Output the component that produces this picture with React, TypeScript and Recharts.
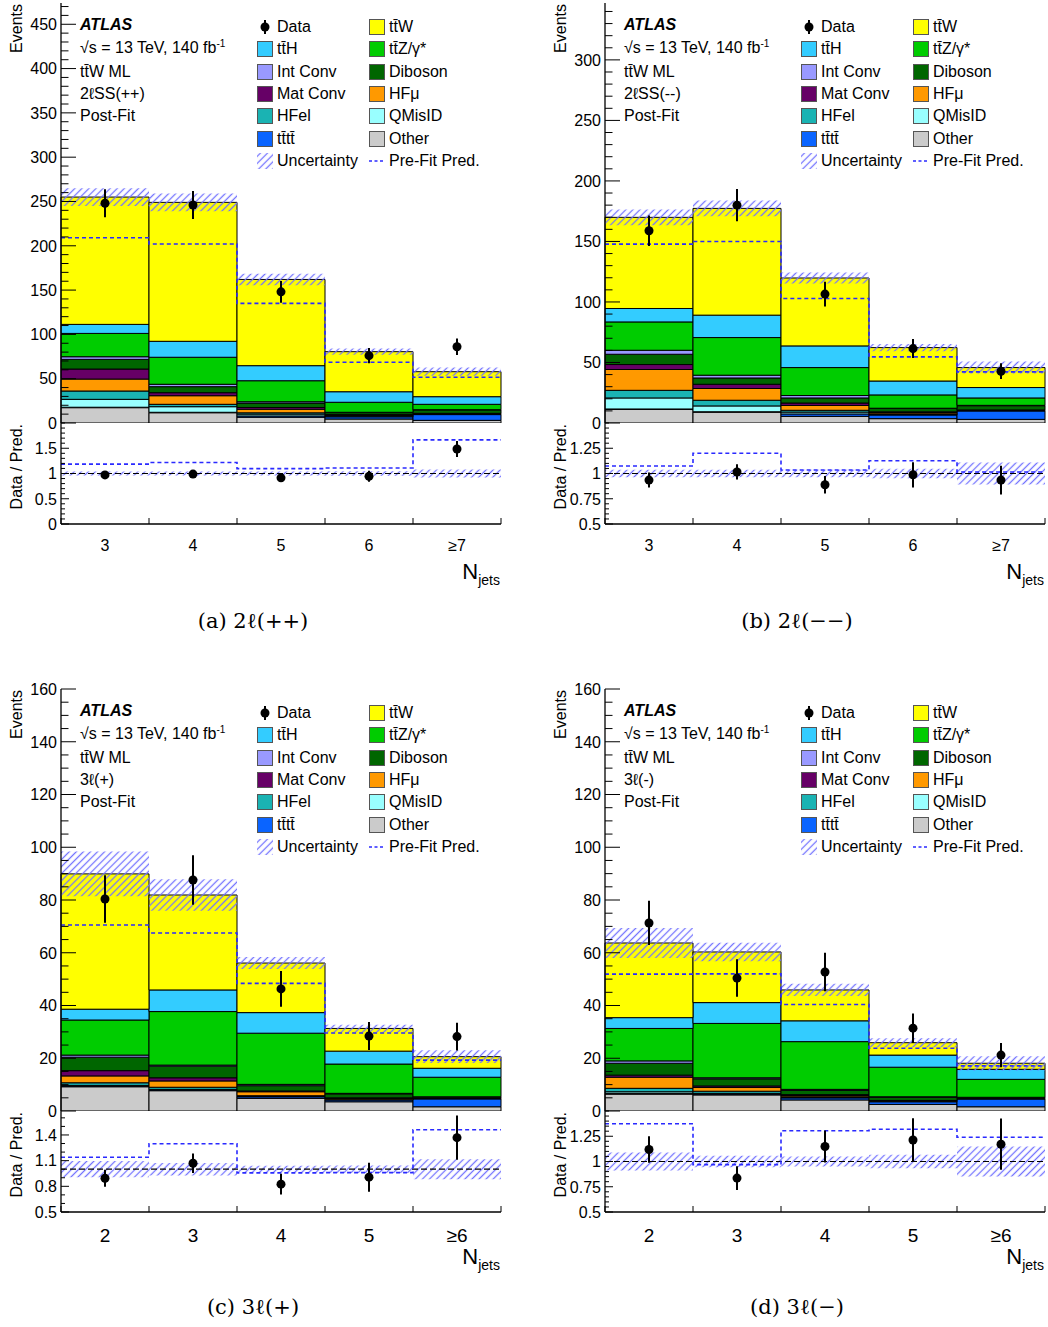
import React from 'react';
import { ComposedChart, Bar, Line, Area, XAxis, YAxis, ReferenceLine, ErrorBar, Legend } from 'recharts';

const SANS = '"Liberation Sans", Arial, Helvetica, "DejaVu Sans", sans-serif';
const SERIF = '"DejaVu Serif", "Liberation Serif", serif';
const HATCH = 'atlasHatch';
const PREFIT_COLOR = '#2a2aff';

// ---------------- categories / tick labels ----------------
const binsTwoLep = ['3', '4', '5', '6', '\u22657'];
const binsThreeLep = ['2', '3', '4', '5', '\u22656'];

const yMajorA = [0, 50, 100, 150, 200, 250, 300, 350, 400, 450];
const yMajorB = [0, 50, 100, 150, 200, 250, 300];
const yMajorCD = [0, 20, 40, 60, 80, 100, 120, 140, 160];
const rMajorA = [0, 0.5, 1, 1.5];
const rMajorB = [0.5, 0.75, 1, 1.25];
const rMajorC = [0.5, 0.8, 1.1, 1.4];
const rMajorD = [0.5, 0.75, 1, 1.25];

// ---------------- (a) 2lSS(++) ----------------
const ppOther = [17.3, 11.6, 6.5, 4.5, 3.0];
const ppTttt = [0.5, 0.5, 1.5, 2.5, 6.5];
const ppQMisID = [8.9, 6.3, 2.0, 0.8, 0.3];
const ppHFel = [9.4, 2.7, 1.5, 0.6, 0.3];
const ppHFmu = [13.5, 9.7, 4.0, 1.0, 0.5];
const ppMatConv = [11.3, 3.4, 2.0, 0.5, 0.3];
const ppDiboson = [10.9, 6.8, 5.0, 2.0, 4.0];
const ppIntConv = [3.0, 2.7, 1.5, 0.2, 0.1];
const ppTtZ = [26.3, 30.5, 23.7, 11.3, 6.1];
const ppTtH = [10.2, 18.0, 17.0, 11.9, 8.6];
const ppTtW = [143.7, 156.8, 97.3, 45.2, 28.2];
const ppData = [248, 246, 148, 76, 86];
const ppDataErr = [15.7, 15.7, 12.2, 8.7, 9.3];
const ppPrefit = [209, 202, 135, 68.5, 51.6];
const ppUnc = [10, 10, 6.5, 3.5, 4.6];

// ---------------- (b) 2lSS(--) ----------------
const mmOther = [11.3, 9.0, 5.5, 3.6, 3.0];
const mmTttt = [0.3, 0.3, 2.0, 3.0, 7.0];
const mmQMisID = [9.1, 4.8, 1.5, 0.5, 0.2];
const mmHFel = [6.3, 4.7, 1.5, 0.5, 0.2];
const mmHFmu = [17.2, 9.7, 4.0, 1.2, 0.2];
const mmMatConv = [4.1, 3.5, 2.0, 0.4, 0.2];
const mmDiboson = [8.5, 5.2, 4.2, 2.8, 3.5];
const mmIntConv = [3.3, 2.3, 2.0, 0.2, 0.3];
const mmTtZ = [23.4, 31.1, 23.1, 11.0, 6.1];
const mmTtH = [11.1, 18.5, 17.9, 11.5, 8.6];
const mmTtW = [75.3, 88.2, 56.1, 27.6, 16.5];
const mmData = [158.8, 180, 106.5, 61.5, 42.8];
const mmDataErr = [12.6, 13.4, 10.3, 7.8, 6.5];
const mmPrefit = [147.8, 150, 102.9, 54.6, 42.2];
const mmUnc = [6.5, 6.5, 4.5, 3.0, 5.0];

// ---------------- (c) 3l(+) ----------------
const p3Other = [9.2, 7.7, 4.8, 3.5, 1.6];
const p3Tttt = [0.3, 0.3, 0.6, 0.7, 3.0];
const p3QMisID = [0.2, 0.2, 0.1, 0.1, 0.1];
const p3HFel = [1.0, 0.8, 0.3, 0.2, 0.1];
const p3HFmu = [2.6, 2.4, 1.5, 0.3, 0.1];
const p3MatConv = [2.0, 1.2, 0.3, 0.2, 0.1];
const p3Diboson = [5.1, 4.4, 2.0, 1.5, 0.4];
const p3IntConv = [0.8, 0.4, 0.5, 0.2, 0.0];
const p3TtZ = [13.3, 20.3, 19.4, 11.1, 7.4];
const p3TtH = [4.1, 8.2, 7.8, 4.9, 3.4];
const p3TtW = [51.3, 36.0, 18.8, 8.6, 4.4];
const p3Data = [80.4, 87.6, 46.3, 28.4, 28.2];
const p3DataErr = [9.0, 9.4, 6.8, 5.3, 5.3];
const p3Prefit = [70.5, 67.5, 48.4, 29.6, 19.3];
const p3Unc = [8.5, 6.0, 2.3, 1.4, 2.4];

// ---------------- (d) 3l(-) ----------------
const m3Other = [6.4, 6.1, 4.2, 2.5, 1.6];
const m3Tttt = [0.3, 0.3, 0.8, 1.0, 3.0];
const m3QMisID = [0.6, 0.3, 0.1, 0.1, 0.05];
const m3HFel = [1.3, 0.8, 0.3, 0.1, 0.05];
const m3HFmu = [4.2, 1.4, 0.5, 0.2, 0.1];
const m3MatConv = [0.8, 0.6, 0.3, 0.1, 0.05];
const m3Diboson = [4.5, 2.7, 1.6, 1.2, 0.35];
const m3IntConv = [0.9, 0.4, 0.4, 0.2, 0.0];
const m3TtZ = [12.3, 20.6, 18.1, 11.2, 6.8];
const m3TtH = [4.1, 7.9, 7.9, 4.6, 3.8];
const m3TtW = [28.3, 19.2, 11.7, 4.7, 2.3];
const m3Data = [71.3, 50.4, 52.7, 31.4, 21.2];
const m3DataErr = [8.4, 7.1, 7.3, 5.6, 4.6];
const m3Prefit = [51.9, 52.0, 40.4, 23.8, 17.1];
const m3Unc = [5.7, 3.5, 2.3, 1.7, 2.7];

// ---------------- styles of the stacked components (bottom -> top) ----------------
const components = [
  { key: 'other', name: 'Other', color: '#cbcbcb' },
  { key: 'tttt', name: 'tt\u0304tt\u0304', color: '#0a64ff' },
  { key: 'qmisid', name: 'QMisID', color: '#99ffff' },
  { key: 'hfel', name: 'HFel', color: '#1ab3b3' },
  { key: 'hfmu', name: 'HF\u03bc', color: '#ff9900' },
  { key: 'matconv', name: 'Mat Conv', color: '#660066' },
  { key: 'diboson', name: 'Diboson', color: '#006600' },
  { key: 'intconv', name: 'Int Conv', color: '#9999ff' },
  { key: 'ttz', name: 'tt\u0304Z/\u03b3*', color: '#00cc00' },
  { key: 'tth', name: 'tt\u0304H', color: '#33ccff' },
  { key: 'ttw', name: 'tt\u0304W', color: '#ffff00' },
];

type PanelCfg = {
  id: string;
  bins: string[];
  stack: Record<string, number[]>;
  data: number[];
  dataErr: number[];
  prefit: number[];
  unc: number[];
  yMax: number;
  yMajor: number[];
  yMinorStep: number;
  rMin: number;
  rMax: number;
  rMajor: number[];
  rMinorStep: number;
  channel: string;
  caption: string;
  ox: number;
  row: number;
};

const panels: PanelCfg[] = [
  {
    id: 'a', bins: binsTwoLep,
    stack: { other: ppOther, tttt: ppTttt, qmisid: ppQMisID, hfel: ppHFel, hfmu: ppHFmu, matconv: ppMatConv, diboson: ppDiboson, intconv: ppIntConv, ttz: ppTtZ, tth: ppTtH, ttw: ppTtW },
    data: ppData, dataErr: ppDataErr, prefit: ppPrefit, unc: ppUnc,
    yMax: 474, yMajor: yMajorA, yMinorStep: 10,
    rMin: 0, rMax: 2, rMajor: rMajorA, rMinorStep: 0.1,
    channel: '2\u2113SS(++)', caption: '(a) 2\u2113(++)', ox: 0, row: 0,
  },
  {
    id: 'b', bins: binsTwoLep,
    stack: { other: mmOther, tttt: mmTttt, qmisid: mmQMisID, hfel: mmHFel, hfmu: mmHFmu, matconv: mmMatConv, diboson: mmDiboson, intconv: mmIntConv, ttz: mmTtZ, tth: mmTtH, ttw: mmTtW },
    data: mmData, dataErr: mmDataErr, prefit: mmPrefit, unc: mmUnc,
    yMax: 347, yMajor: yMajorB, yMinorStep: 10,
    rMin: 0.5, rMax: 1.5, rMajor: rMajorB, rMinorStep: 0.05,
    channel: '2\u2113SS(--)', caption: '(b) 2\u2113(\u2212\u2212)', ox: 544, row: 0,
  },
  {
    id: 'c', bins: binsThreeLep,
    stack: { other: p3Other, tttt: p3Tttt, qmisid: p3QMisID, hfel: p3HFel, hfmu: p3HFmu, matconv: p3MatConv, diboson: p3Diboson, intconv: p3IntConv, ttz: p3TtZ, tth: p3TtH, ttw: p3TtW },
    data: p3Data, dataErr: p3DataErr, prefit: p3Prefit, unc: p3Unc,
    yMax: 160, yMajor: yMajorCD, yMinorStep: 5,
    rMin: 0.5, rMax: 1.68, rMajor: rMajorC, rMinorStep: 0.1,
    channel: '3\u2113(+)', caption: '(c) 3\u2113(+)', ox: 0, row: 1,
  },
  {
    id: 'd', bins: binsThreeLep,
    stack: { other: m3Other, tttt: m3Tttt, qmisid: m3QMisID, hfel: m3HFel, hfmu: m3HFmu, matconv: m3MatConv, diboson: m3Diboson, intconv: m3IntConv, ttz: m3TtZ, tth: m3TtH, ttw: m3TtW },
    data: m3Data, dataErr: m3DataErr, prefit: m3Prefit, unc: m3Unc,
    yMax: 160, yMajor: yMajorCD, yMinorStep: 5,
    rMin: 0.5, rMax: 1.5, rMajor: rMajorD, rMinorStep: 0.05,
    channel: '3\u2113(-)', caption: '(d) 3\u2113(\u2212)', ox: 544, row: 1,
  },
];

// ---------------- layout ----------------
const rowGeom = [
  { mainTop: 3, split: 423, ratioBottom: 524, tickFont: 16, tickBase: 27, nBase: 55, captionBase: 628 },
  { mainTop: 689, split: 1111, ratioBottom: 1212, tickFont: 19, tickBase: 30, nBase: 52, captionBase: 1314 },
];
const CW = 520;
const PL = 61;
const PW = 440;
const PR = CW - PL - PW;
const frameLine = { stroke: '#000', strokeWidth: 1.3 };

const near = (a: number, b: number) => Math.abs(a - b) < 1e-6;
const fmt = (v: number) => String(Math.round(v * 1000) / 1000);

function withMinors(min: number, max: number, step: number, majors: number[]) {
  const out: number[] = [];
  for (let k = 0; min + k * step <= max + 1e-9; k++) out.push(Math.round((min + k * step) * 1e6) / 1e6);
  majors.forEach((m) => { if (!out.some((v) => near(v, m))) out.push(m); });
  return out.sort((a, b) => a - b);
}

function makeYTick(side: 'left' | 'right', majors: number[], majorLen: number, minorLen: number, showLabels: boolean) {
  return (props: any) => {
    const { x, y, payload } = props;
    const v = Number(payload.value);
    const major = majors.some((m) => near(m, v));
    const len = major ? majorLen : minorLen;
    const dir = side === 'left' ? 1 : -1;
    return (
      <g>
        <line x1={x} x2={x + dir * len} y1={y} y2={y} stroke="#000" strokeWidth={1} />
        {showLabels && major ? (
          <text x={x - 4} y={y} dy="0.36em" textAnchor="end" fontSize={16} fontFamily={SANS} fill="#000">{fmt(v)}</text>
        ) : null}
      </g>
    );
  };
}

function makeXTick(side: 'top' | 'bottom', len: number, labels?: string[], fontSize?: number, base?: number) {
  return (props: any) => {
    const { x, y, payload } = props;
    const v = Number(payload.value);
    if (Math.abs(v - Math.round(v)) < 1e-6) {
      return <line x1={x} x2={x} y1={y} y2={side === 'top' ? y + len : y - len} stroke="#000" strokeWidth={1} />;
    }
    if (labels) {
      return (
        <text x={x} y={y + (base || 0)} textAnchor="middle" fontSize={fontSize} fontFamily={SANS} fill="#000">
          {labels[Math.floor(v)]}
        </text>
      );
    }
    return <g />;
  };
}

function YTitle(props: any) {
  const { viewBox, text } = props;
  const x = (viewBox?.x ?? 0) + 22;
  const y = (viewBox?.y ?? 0) + 1;
  return (
    <text x={x} y={y} transform={`rotate(-90 ${x} ${y})`} textAnchor="end" fontSize={16} fontFamily={SANS} fill="#000">
      {text}
    </text>
  );
}

function NjetsLabel(props: any) {
  const { viewBox, base } = props;
  const x = (viewBox?.x ?? 0) + (viewBox?.width ?? 0) - 1;
  const y = (viewBox?.y ?? 0) + base;
  return (
    <text x={x} y={y} textAnchor="end" fontFamily={SANS} fill="#000">
      <tspan fontSize={22}>N</tspan>
      <tspan fontSize={14} dy={6}>jets</tspan>
    </text>
  );
}

// ---------------- legend ----------------
const legendGrid: [string, string][] = [
  ['data', 'ttw'], ['tth', 'ttz'], ['intconv', 'diboson'], ['matconv', 'hfmu'], ['hfel', 'qmisid'], ['tttt', 'other'], ['unc', 'prefit'],
];
const legendRowY = [27, 49.3, 71.6, 93.9, 116.2, 138.5, 160.8];
const legendColX = [257, 369];
const atlasRowY = [25, 48.3, 71.6, 94, 116.2];

function entryName(k: string) {
  if (k === 'data') return 'Data';
  if (k === 'unc') return 'Uncertainty';
  if (k === 'prefit') return 'Pre-Fit Pred.';
  return components.find((c) => c.key === k)!.name;
}

function Swatch({ kind }: { kind: string }) {
  if (kind === 'data') {
    return (
      <svg width={16} height={18} style={{ display: 'block' }}>
        <line x1={8} x2={8} y1={2} y2={16} stroke="#000" strokeWidth={2} />
        <circle cx={8} cy={9} r={4.5} fill="#000" />
      </svg>
    );
  }
  if (kind === 'unc') {
    return (
      <svg width={16} height={16} style={{ display: 'block' }}>
        <rect x={0} y={0} width={16} height={16} fill={`url(#${HATCH})`} />
      </svg>
    );
  }
  if (kind === 'prefit') {
    return (
      <svg width={16} height={16} style={{ display: 'block' }}>
        <line x1={0} x2={16} y1={8} y2={8} stroke={PREFIT_COLOR} strokeWidth={1.6} strokeDasharray="3 2.5" />
      </svg>
    );
  }
  const c = components.find((cc) => cc.key === kind)!;
  return (
    <svg width={16} height={16} style={{ display: 'block' }}>
      <rect x={0.5} y={0.5} width={15} height={15} fill={c.color} stroke="#555" strokeWidth={1} />
    </svg>
  );
}

function LegendBlock({ channel }: { channel: string }) {
  const txt = (top: number, left: number, content: React.ReactNode, extra?: React.CSSProperties) => (
    <div style={{ position: 'absolute', left, top: top - 9, height: 18, lineHeight: '18px', whiteSpace: 'nowrap', ...extra }}>{content}</div>
  );
  return (
    <div style={{ position: 'relative', width: CW, height: 180, fontFamily: SANS, fontSize: 16, color: '#000' }}>
      {txt(atlasRowY[0], 80, 'ATLAS', { fontWeight: 'bold', fontStyle: 'italic' })}
      {txt(atlasRowY[1], 80, <span>{'\u221as = 13 TeV, 140 fb'}<span style={{ fontSize: 10, position: 'relative', top: -6 }}>-1</span></span>)}
      {txt(atlasRowY[2], 80, 'tt\u0304W ML')}
      {txt(atlasRowY[3], 80, channel)}
      {txt(atlasRowY[4], 80, 'Post-Fit')}
      {legendGrid.map((pair, r) =>
        pair.map((k, ci) => (
          <React.Fragment key={k}>
            <div style={{ position: 'absolute', left: legendColX[ci], top: legendRowY[r] - (k === 'data' ? 9 : 8) }}>
              <Swatch kind={k} />
            </div>
            {txt(legendRowY[r], legendColX[ci] + 20, entryName(k))}
          </React.Fragment>
        ))
      )}
    </div>
  );
}

// ---------------- one panel (main + ratio) ----------------
const MT = 12; // room above the main frame for the top tick label

function PanelView({ p }: { p: PanelCfg }) {
  const g = rowGeom[p.row];
  const n = p.bins.length;
  const totals = p.bins.map((_, i) => components.reduce((s, c) => s + p.stack[c.key][i], 0));
  const barRows = p.bins.map((bin, i) => {
    const r: Record<string, any> = { bin };
    components.forEach((c) => { r[c.key] = p.stack[c.key][i]; });
    return r;
  });
  const steps = (vals: any[], key: string) => [
    ...vals.map((v, i) => ({ x: i, [key]: v })),
    { x: n, [key]: vals[n - 1] },
  ];
  const mainBand = steps(totals.map((t, i) => [t - p.unc[i], t + p.unc[i]]), 'band');
  const mainPrefit = steps(p.prefit, 'v');
  const mainData = p.data.map((d, i) => ({ x: i + 0.5, v: d, err: p.dataErr[i] }));
  const ratioBand = steps(totals.map((t, i) => [1 - p.unc[i] / t, 1 + p.unc[i] / t]), 'band');
  const ratioPrefit = steps(p.data.map((d, i) => d / p.prefit[i]), 'v');
  const ratioData = p.data.map((d, i) => ({ x: i + 0.5, v: d / totals[i], err: p.dataErr[i] / totals[i] }));

  const edgeTicks = Array.from({ length: n + 1 }, (_, i) => i);
  const halfTicks: number[] = [];
  for (let i = 0; i <= n; i++) { halfTicks.push(i); if (i < n) halfTicks.push(i + 0.5); }
  const yTicks = withMinors(0, p.yMax, p.yMinorStep, p.yMajor);
  const rTicks = withMinors(p.rMin, p.rMax, p.rMinorStep, p.rMajor);

  const mainH = g.split - g.mainTop + MT + 8;
  const ratioH = g.ratioBottom - g.split + 8 + 76;

  return (
    <>
      <div style={{ position: 'absolute', left: p.ox, top: g.mainTop - MT }}>
        <ComposedChart width={CW} height={mainH} data={barRows} margin={{ top: MT, right: PR, bottom: 8, left: 0 }} barCategoryGap={0} barGap={0}>
          <XAxis xAxisId="cat" dataKey="bin" type="category" hide />
          <XAxis xAxisId="num" dataKey="x" type="number" domain={[0, n]} allowDataOverflow ticks={edgeTicks} interval={0}
            height={0} tickSize={0} tickMargin={0} tickLine={false} axisLine={frameLine} tick={makeXTick('bottom', 10)} />
          <XAxis xAxisId="top" orientation="top" type="number" domain={[0, n]} allowDataOverflow ticks={edgeTicks} interval={0}
            height={0} tickSize={0} tickMargin={0} tickLine={false} axisLine={frameLine} tick={makeXTick('top', 10)} />
          <YAxis yAxisId="left" type="number" domain={[0, p.yMax]} allowDataOverflow ticks={yTicks} interval={0} width={PL}
            tickSize={0} tickMargin={0} tickLine={false} axisLine={frameLine} tick={makeYTick('left', p.yMajor, 15, 7.5, true)}
            label={<YTitle text="Events" />} />
          <YAxis yAxisId="right" orientation="right" type="number" domain={[0, p.yMax]} allowDataOverflow ticks={yTicks} interval={0} width={0}
            tickSize={0} tickMargin={0} tickLine={false} axisLine={frameLine} tick={makeYTick('right', p.yMajor, 15, 7.5, false)} />
          {components.map((c) => (
            <Bar key={c.key} dataKey={c.key} name={c.name} stackId="mc" xAxisId="cat" yAxisId="left" fill={c.color}
              stroke="#000" strokeWidth={1} isAnimationActive={false} />
          ))}
          <Area data={mainBand} dataKey="band" xAxisId="num" yAxisId="left" type="stepAfter" fill={`url(#${HATCH})`} fillOpacity={1}
            stroke="none" isAnimationActive={false} activeDot={false} {...({ zIndex: 350 } as any)} />
          <Line data={mainPrefit} dataKey="v" xAxisId="num" yAxisId="left" type="stepAfter" stroke={PREFIT_COLOR} strokeWidth={1.6}
            strokeDasharray="4 3" dot={false} activeDot={false} isAnimationActive={false} />
          <Line data={mainData} dataKey="v" xAxisId="num" yAxisId="left" stroke="none" activeDot={false} isAnimationActive={false}
            dot={{ r: 4.5, fill: '#000', stroke: '#000', strokeWidth: 0 }}>
            <ErrorBar dataKey="err" direction="y" width={0} stroke="#000" strokeWidth={2} />
          </Line>
          <Legend verticalAlign="middle" align="center" layout="horizontal"
            wrapperStyle={{ left: 0, top: MT - 3, width: CW, height: 180, margin: 0, padding: 0 }}
            content={() => <LegendBlock channel={p.channel} />} />
        </ComposedChart>
      </div>
      <div style={{ position: 'absolute', left: p.ox, top: g.split - 8 }}>
        <ComposedChart width={CW} height={ratioH} margin={{ top: 8, right: PR, bottom: 0, left: 0 }}>
          <XAxis xAxisId="num" dataKey="x" type="number" domain={[0, n]} allowDataOverflow ticks={halfTicks} interval={0}
            height={76} tickSize={0} tickMargin={0} tickLine={false} axisLine={frameLine}
            tick={makeXTick('bottom', 6, p.bins, g.tickFont, g.tickBase)} label={<NjetsLabel base={g.nBase} />} />
          <XAxis xAxisId="top" orientation="top" type="number" domain={[0, n]} allowDataOverflow ticks={edgeTicks} interval={0}
            height={0} tickSize={0} tickMargin={0} tickLine={false} axisLine={frameLine} tick={makeXTick('top', 5)} />
          <YAxis yAxisId="left" type="number" domain={[p.rMin, p.rMax]} allowDataOverflow ticks={rTicks} interval={0} width={PL}
            tickSize={0} tickMargin={0} tickLine={false} axisLine={frameLine} tick={makeYTick('left', p.rMajor, 8, 4, true)}
            label={<YTitle text="Data / Pred." />} />
          <YAxis yAxisId="right" orientation="right" type="number" domain={[p.rMin, p.rMax]} allowDataOverflow ticks={rTicks} interval={0} width={0}
            tickSize={0} tickMargin={0} tickLine={false} axisLine={frameLine} tick={makeYTick('right', p.rMajor, 8, 4, false)} />
          <Area data={ratioBand} dataKey="band" xAxisId="num" yAxisId="left" type="stepAfter" fill={`url(#${HATCH})`} fillOpacity={1}
            stroke="none" isAnimationActive={false} activeDot={false} />
          <ReferenceLine y={1} xAxisId="num" yAxisId="left" stroke="#000" strokeWidth={1.2} strokeDasharray="6 3" />
          <Line data={ratioPrefit} dataKey="v" xAxisId="num" yAxisId="left" type="stepAfter" stroke={PREFIT_COLOR} strokeWidth={1.6}
            strokeDasharray="4 3" dot={false} activeDot={false} isAnimationActive={false} />
          <Line data={ratioData} dataKey="v" xAxisId="num" yAxisId="left" stroke="none" activeDot={false} isAnimationActive={false}
            dot={{ r: 4.5, fill: '#000', stroke: '#000', strokeWidth: 0 }}>
            <ErrorBar dataKey="err" direction="y" width={0} stroke="#000" strokeWidth={2} />
          </Line>
        </ComposedChart>
      </div>
      <svg width={CW} height={40} style={{ position: 'absolute', left: p.ox, top: g.captionBase - 30 }}>
        <text x={253} y={30} textAnchor="middle" fontFamily={SERIF} fontSize={21} fill="#000">{p.caption}</text>
      </svg>
    </>
  );
}

export default function App() {
  return (
    <div style={{ position: 'absolute', left: 0, top: 0, width: 1048, height: 1327, background: '#fff', fontFamily: SANS, overflow: 'hidden' }}>
      <svg width={0} height={0} style={{ position: 'absolute' }}>
        <defs>
          <pattern id={HATCH} width={5} height={5} patternUnits="userSpaceOnUse" patternTransform="rotate(45)">
            <line x1={2.5} y1={0} x2={2.5} y2={5} stroke="#7373ff" strokeWidth={1.3} />
          </pattern>
        </defs>
      </svg>
      {panels.map((p) => <PanelView key={p.id} p={p} />)}
    </div>
  );
}
